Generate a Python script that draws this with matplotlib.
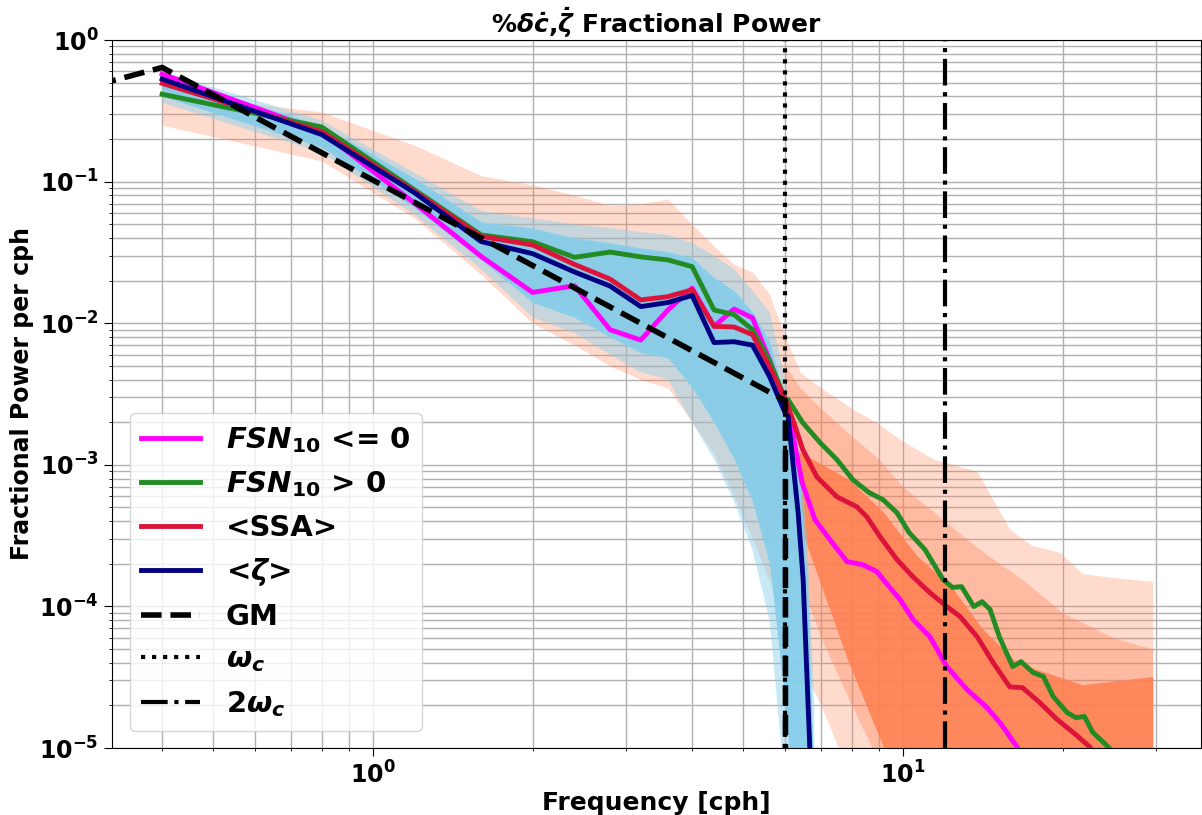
import matplotlib
matplotlib.use("Agg")
import matplotlib.pyplot as plt
import numpy as np

# ---- data ----
freq_lo = [0.4, 0.8, 1.2, 1.6, 2.0, 2.4, 2.8, 3.2, 3.6, 4.0, 4.4, 4.8, 5.2, 5.6, 6.0]

fsn_neg_lo = [0.575, 0.225, 0.070, 0.0296, 0.0165, 0.0184, 0.0090, 0.0076, 0.0124, 0.0177,
              0.0095, 0.0126, 0.0109, 0.0055, 0.0027]
fsn_neg_hf = [6.07, 6.26, 6.45, 6.82, 7.28, 7.84, 8.4, 8.93, 9.17, 9.87, 10.44, 11.24, 12.1,
              13.2, 14.4, 15.24, 16.4, 17.2]
fsn_neg_hv = [2.57e-3, 1.34e-3, 7.5e-4, 4.1e-4, 2.96e-4, 2.07e-4, 1.97e-4, 1.76e-4, 1.55e-4,
              1.12e-4, 8.1e-5, 6.1e-5, 3.76e-5, 2.59e-5, 1.93e-5, 1.51e-5, 1.02e-5, 8e-6]

fsn_pos_lo = [0.414, 0.243, 0.087, 0.042, 0.0376, 0.0292, 0.0318, 0.0294, 0.028, 0.0251,
              0.0124, 0.0115, 0.0090, 0.0054, 0.0029]
fsn_pos_hf = [6.07, 6.47, 6.98, 7.5, 8.04, 8.63, 9.17, 9.74, 10.27, 11.0, 11.9, 12.4, 12.9,
              13.6, 14.1, 14.6, 15.2, 16.1, 16.7, 17.6, 18.4, 19.2, 20.4, 21.2, 22.0, 22.8,
              23.8, 24.5, 25.2]
fsn_pos_hv = [2.89e-3, 1.98e-3, 1.43e-3, 1.09e-3, 7.85e-4, 6.36e-4, 5.67e-4, 4.59e-4, 3.32e-4,
              2.52e-4, 1.55e-4, 1.36e-4, 1.38e-4, 9.97e-5, 1.08e-4, 9.5e-5, 6.1e-5, 3.76e-5,
              4.07e-5, 3.41e-5, 3.2e-5, 2.31e-5, 1.78e-5, 1.64e-5, 1.67e-5, 1.29e-5, 1.11e-5,
              1.0e-5, 8e-6]

ssa_lo = [0.494, 0.225, 0.085, 0.041, 0.0357, 0.026, 0.0205, 0.0146, 0.0154, 0.0172,
          0.0095, 0.0094, 0.0083, 0.0049, 0.0029]
ssa_hf = [6.07, 6.26, 6.47, 6.88, 7.5, 8.18, 8.54, 9.05, 9.74, 10.44, 11.24, 12.1, 12.8, 13.8,
          14.8, 15.9, 16.8, 18.1, 19.5, 21.2, 22.5, 23.5]
ssa_hv = [2.57e-3, 1.86e-3, 1.28e-3, 8.2e-4, 5.95e-4, 5.06e-4, 4.3e-4, 3.11e-4, 2.14e-4,
          1.62e-4, 1.25e-4, 9.97e-5, 8.5e-5, 6.1e-5, 4.0e-5, 2.7e-5, 2.67e-5, 2.1e-5, 1.6e-5,
          1.24e-5, 1.02e-5, 8e-6]

zeta_lo = [0.53, 0.215, 0.083, 0.0377, 0.031, 0.023, 0.0183, 0.0131, 0.014, 0.0157, 0.0073,
           0.0074, 0.0070, 0.0042, 0.0023]
zeta_hf = [6.07, 6.2, 6.34, 6.48, 6.67, 6.9]
zeta_hv = [2.2e-3, 1.03e-3, 4.6e-4, 1.55e-4, 1.0e-5, 1e-7]

gm_f = [0.3, 0.4, 6.0, 6.001]
gm_v = [0.48, 0.64, 0.00284, 1e-9]

omega_c = 6.0

# ensemble spreads (zeta members = skyblue, SSA members = coral)
ens_b_f = [0.4, 0.8, 1.2, 1.6, 2.0, 2.4, 2.8, 3.2, 3.6, 4.0, 4.4, 4.8, 5.2, 5.6, 6.0, 6.2, 6.4,
           6.6, 6.8]
ens_b_hi = [0.60, 0.27, 0.115, 0.062, 0.055, 0.05, 0.047, 0.044, 0.042, 0.037, 0.030, 0.024,
            0.017, 0.012, 0.0040, 0.0022, 0.0011, 3e-4, 2e-5]
ens_b_lo = [0.36, 0.16, 0.058, 0.024, 0.011, 0.0085, 0.006, 0.0045, 0.004, 0.0020, 0.0011,
            5.5e-4, 2.5e-4, 8e-5, 5e-6, 1e-6, 1e-6, 1e-6, 1e-6]
core_b_hi = [0.56, 0.25, 0.105, 0.052, 0.047, 0.04, 0.037, 0.034, 0.032, 0.029, 0.021, 0.017,
             0.012, 0.0075, 0.0028, 0.0016, 7e-4, 1.5e-4, 5e-6]
core_b_lo = [0.40, 0.175, 0.065, 0.028, 0.014, 0.011, 0.008, 0.0062, 0.0057, 0.0035, 0.002,
             0.0011, 5.5e-4, 2e-4, 2e-5, 4e-6, 1e-6, 1e-6, 1e-6]

ens_c_f = [0.4, 0.8, 1.2, 1.6, 2.0, 2.4, 2.8, 3.2, 3.6, 4.0, 4.4, 4.8, 5.2, 5.6, 6.0, 6.4, 7.0,
           8.0, 8.9, 9.9, 11.4, 13.8, 15.9, 17.5, 19.8, 21.8, 25.0, 29.6]
ens_c_hi = [0.43, 0.31, 0.18, 0.11, 0.095, 0.08, 0.068, 0.070, 0.075, 0.050, 0.035, 0.026,
            0.023, 0.016, 0.008, 0.0045, 0.0035, 0.0025, 0.002, 0.0015, 0.0011, 0.0009,
            3.5e-4, 2.7e-4, 2.4e-4, 1.7e-4, 1.6e-4, 1.5e-4]
ens_c_lo = [0.25, 0.14, 0.055, 0.022, 0.010, 0.007, 0.005, 0.004, 0.0035, 0.002, 0.0012,
            6e-4, 3e-4, 1.5e-4, 8e-5, 4e-5, 2e-5, 6e-6, 2e-6, 1e-6, 1e-6, 1e-6, 1e-6, 1e-6,
            1e-6, 1e-6, 1e-6, 1e-6]
# busier band of SSA members above omega_c
mid_c_f = [6.0, 6.4, 7.0, 8.0, 9.0, 10.0, 12.0, 14.0, 17.0, 20.0, 25.0, 29.6]
mid_c_hi = [0.005, 0.0035, 0.0025, 0.0016, 0.0011, 7e-4, 4e-4, 2.5e-4, 1.5e-4, 9e-5, 6e-5,
            5e-5]
mid_c_lo = [3e-4, 1.5e-4, 6e-5, 2e-5, 8e-6, 4e-6, 2e-6, 1e-6, 1e-6, 1e-6, 1e-6, 1e-6]
# dense part of the SSA members, only exposed past omega_c
core_c_f = [0.4, 0.8, 1.2, 1.6, 2.0, 2.4, 2.8, 3.2, 3.6, 4.0, 4.4, 4.8, 5.2, 5.6, 6.1, 7.9,
            9.2, 10.6, 12.3, 14.1, 16.4, 21.8, 29.6]
core_c_hi = [0.55, 0.24, 0.10, 0.05, 0.045, 0.039, 0.036, 0.033, 0.031, 0.027, 0.019, 0.015,
             0.011, 0.007, 0.00135, 7.9e-4, 4.6e-4, 2.3e-4, 1.4e-4, 7e-5, 4e-5, 2.8e-5, 3.2e-5]
core_c_lo = [0.41, 0.18, 0.066, 0.029, 0.015, 0.012, 0.0085, 0.0065, 0.006, 0.0037, 0.0021,
             0.0012, 6e-4, 2.5e-4, 6e-4, 4e-5, 1e-5, 3e-6, 1e-6, 1e-6, 1e-6, 1e-6, 1e-6]

# ---- plot ----
fig = plt.figure(figsize=(12.02, 8.15), dpi=100)
ax = fig.add_axes([112/1202, 67/815, 1089/1202, 708/815])

ax.fill_between(ens_c_f, ens_c_lo, ens_c_hi, color='coral', alpha=0.28, lw=0, zorder=1)
ax.fill_between(mid_c_f, mid_c_lo, mid_c_hi, color='coral', alpha=0.35, lw=0, zorder=1.05)
ax.fill_between(core_c_f, core_c_lo, core_c_hi, color='coral', alpha=0.85, lw=0, zorder=1.1)
ax.fill_between(ens_b_f, ens_b_lo, ens_b_hi, color='skyblue', alpha=0.45, lw=0, zorder=2)
ax.fill_between(ens_b_f, core_b_lo, core_b_hi, color='skyblue', alpha=0.95, lw=0, zorder=2.1)

ax.plot(freq_lo + fsn_neg_hf, fsn_neg_lo + fsn_neg_hv, color='magenta', lw=3.5,
        label=r'$\mathbfit{FSN}_{\mathbf{10}}$ <= 0', zorder=4)
ax.plot(freq_lo + fsn_pos_hf, fsn_pos_lo + fsn_pos_hv, color='forestgreen', lw=3.5,
        label=r'$\mathbfit{FSN}_{\mathbf{10}}$ > 0', zorder=4)
ax.plot(freq_lo + ssa_hf, ssa_lo + ssa_hv, color='crimson', lw=3.5, label='<SSA>', zorder=4)
ax.plot(freq_lo + zeta_hf, zeta_lo + zeta_hv, color='navy', lw=3.5,
        label=r'<$\mathbfit{\zeta}$>', zorder=4)
ax.plot(gm_f, gm_v, 'k--', lw=4, label='GM', zorder=5)
ax.axvline(omega_c, color='k', ls=':', lw=3, label=r'$\mathbfit{\omega_c}$', zorder=5)
ax.axvline(2*omega_c, color='k', ls='-.', lw=3, label=r'$\mathbf{2}\mathbfit{\omega_c}$', zorder=5)

ax.set_xscale('log')
ax.set_yscale('log')
ax.set_xlim(0.3217, 36.5)
ax.set_ylim(1e-5, 1)
ax.grid(True, which='both', color='#b0b0b0', lw=1)
ax.set_axisbelow(True)

ax.tick_params(axis='both', which='major', labelsize=17, length=6)
for lab in ax.get_xticklabels() + ax.get_yticklabels():
    lab.set_fontweight('bold')

ax.set_xlabel('Frequency [cph]', fontsize=18, fontweight='bold', labelpad=2)
ax.set_ylabel('Fractional Power per cph', fontsize=17, fontweight='bold', labelpad=4)
ax.set_title(r'%$\mathbfit{\delta\dot{c}}$,$\mathbfit{\dot{\zeta}}$ Fractional Power',
             fontsize=18, fontweight='bold', pad=4)

leg = ax.legend(loc='lower left', prop={'size': 21, 'weight': 'bold'},
                handletextpad=0.9, labelspacing=0.5, borderaxespad=0.6)

fig.savefig('out.png', dpi=100)
